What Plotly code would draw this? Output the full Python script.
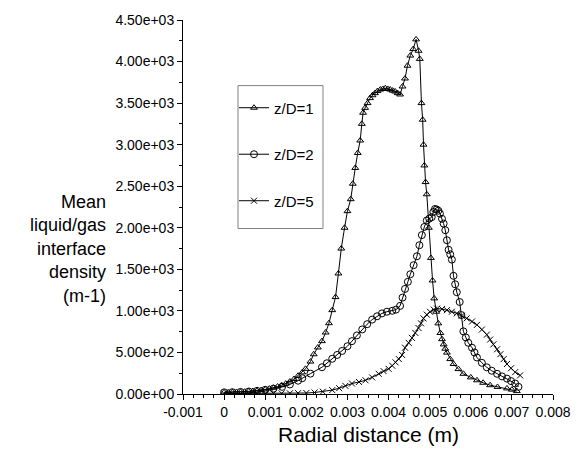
import plotly.graph_objects as go

# ---- data ----
x1 = [0, 0.0001, 0.0002, 0.0003, 0.0004, 0.0005, 0.0006, 0.0007, 0.0008, 0.0009, 0.001, 0.0011, 0.0012, 0.0013,
      0.0014, 0.0015, 0.0016, 0.0017, 0.0018, 0.0019, 0.00198, 0.0021, 0.00218, 0.00228, 0.00238, 0.00247, 0.00255,
      0.00263, 0.00271, 0.00278, 0.00285, 0.00293, 0.003, 0.00308, 0.00313, 0.00319, 0.00325, 0.00331, 0.00335,
      0.00338, 0.00343, 0.00349, 0.00355, 0.00361, 0.00367, 0.00373, 0.0038, 0.00386, 0.00392, 0.00398, 0.00404,
      0.0041, 0.00416, 0.00422, 0.00428, 0.00434, 0.0044, 0.00446, 0.00453, 0.0046, 0.00467, 0.00473, 0.00476,
      0.0048, 0.00483, 0.00485, 0.00487, 0.0049, 0.00493, 0.00498, 0.00503, 0.00507, 0.00511, 0.00516, 0.00521,
      0.00526, 0.0053, 0.00534, 0.00538, 0.00542, 0.0055, 0.00558, 0.0057, 0.00582, 0.006, 0.00615, 0.0063,
      0.00647, 0.00665, 0.00688, 0.007, 0.00712]
y1 = [20, 20, 22, 24, 26, 28, 32, 36, 40, 47, 55, 65, 75, 90,
      106, 125, 150, 180, 220, 260, 303, 390, 478, 560, 636, 740, 852,
      1009, 1166, 1450, 1750, 2000, 2200, 2344, 2530, 2720, 2900, 3050, 3250,
      3384, 3443, 3500, 3560, 3595, 3620, 3645, 3663, 3670, 3679, 3670, 3663,
      3650, 3640, 3620, 3604, 3700, 3796, 3950, 4072, 4150, 4267, 4130, 4032,
      3500, 3300, 3000, 2750, 2550, 2403, 2000, 1637, 1366, 1150, 990, 850,
      734, 660, 597, 545, 498, 420, 361, 300, 243, 200, 165, 135,
      106, 85, 67, 52, 35]

x2 = [0, 0.0002, 0.0004, 0.0006, 0.0008, 0.001, 0.0012, 0.00141, 0.0016, 0.0018, 0.0019, 0.0021, 0.00238, 0.0025,
      0.00263, 0.00275, 0.00287, 0.003, 0.00311, 0.00323, 0.00336, 0.00348, 0.0036, 0.00372, 0.00384, 0.00396,
      0.00409, 0.00418, 0.00428, 0.00434, 0.0044, 0.00447, 0.00453, 0.00461, 0.00469, 0.00475, 0.00481, 0.00487,
      0.00493, 0.00499, 0.00505, 0.00509, 0.00513, 0.00517, 0.00521, 0.00525, 0.0053, 0.00534, 0.00538, 0.00542,
      0.00546, 0.0055, 0.00554, 0.00558, 0.00562, 0.00566, 0.00573, 0.00577, 0.00582, 0.00588, 0.00594, 0.00603,
      0.00609, 0.00615, 0.00627, 0.00639, 0.00651, 0.00664, 0.00676, 0.00688, 0.00698, 0.00708, 0.00716]
y2 = [20, 22, 25, 30, 38, 50, 65, 86, 115, 160, 190, 245, 322, 370,
      424, 470, 518, 575, 636, 705, 777, 840, 895, 935, 970, 990,
      1001, 1015, 1060, 1160, 1264, 1350, 1441, 1550, 1657, 1790, 1912, 2010,
      2088, 2110, 2128, 2190, 2226, 2220, 2206, 2170, 2108, 2050, 1971, 1850,
      1735, 1680, 1617, 1422, 1320, 1225, 1107, 950, 754, 680, 616, 557,
      500, 439, 375, 321, 280, 243, 212, 185, 155, 126, 86]

x5 = [0, 0.0002, 0.0004, 0.0006, 0.0008, 0.001, 0.0012, 0.0014, 0.0016, 0.0018, 0.002, 0.0022, 0.0024, 0.00263,
      0.0028, 0.00295, 0.00311, 0.00328, 0.00344, 0.0036, 0.00376, 0.00388, 0.004, 0.00409, 0.00417, 0.00425,
      0.00433, 0.0044, 0.00449, 0.00457, 0.00465, 0.00473, 0.00479, 0.00485, 0.00493, 0.00501, 0.0051, 0.00518,
      0.0053, 0.00542, 0.00554, 0.00566, 0.00578, 0.0059, 0.00603, 0.00615, 0.00627, 0.00639, 0.00647, 0.00655,
      0.00664, 0.00672, 0.0068, 0.00688, 0.00698, 0.00708, 0.0072]
y5 = [5, 5, 5, 5, 5, 5, 6, 7, 8, 10, 12, 18, 28, 47,
      70, 98, 126, 145, 165, 200, 243, 275, 303, 340, 381, 420,
      470, 557, 615, 675, 735, 793, 850, 910, 955, 989, 1015, 1028,
      1022, 1009, 990, 970, 942, 910, 872, 832, 775, 714, 655, 597,
      538, 479, 420, 361, 310, 263, 224]

series_names = ["z/D=1", "z/D=2", "z/D=5"]

x_tickvals = [-0.001, 0, 0.001, 0.002, 0.003, 0.004, 0.005, 0.006, 0.007, 0.008]
x_ticktext = ["-0.001", "0", "0.001", "0.002", "0.003", "0.004", "0.005", "0.006", "0.007", "0.008"]
y_tickvals = [0, 500, 1000, 1500, 2000, 2500, 3000, 3500, 4000, 4500]
y_ticktext = ["0.00e+00", "5.00e+02", "1.00e+03", "1.50e+03", "2.00e+03",
              "2.50e+03", "3.00e+03", "3.50e+03", "4.00e+03", "4.50e+03"]
y_title_lines = ["Mean", "liquid/gas", "interface", "density", "(m-1)"]
x_title = "Radial distance (m)"

FONT = "Liberation Sans, Arial, sans-serif"

fig = go.Figure()
styles = [
    dict(symbol="triangle-up-open", size=6),
    dict(symbol="circle-open", size=7),
    dict(symbol="x-thin-open", size=6),
]
for i, (xs, ys) in enumerate([(x1, y1), (x2, y2), (x5, y5)]):
    fig.add_trace(go.Scatter(
        x=xs, y=ys, mode="lines+markers", name=series_names[i],
        legendgroup=series_names[i],
        line=dict(color="black", width=1),
        marker=dict(symbol=styles[i]["symbol"], size=styles[i]["size"], color="black",
                    line=dict(color="black", width=1)),
    ))

W, H = 587, 466
# plot area in screen pixels
PX0, PX1, PY0, PY1 = 183, 553, 12, 394
L, T = PX0, PY0
R = W - PX1
B = H - PY1
pw, ph = PX1 - PX0, PY1 - PY0

def px2paper_x(px):
    return (px - PX0) / pw

def px2paper_y(py):
    return (PY1 - py) / ph

fig.update_layout(
    width=W, height=H,
    margin=dict(l=L, r=R, t=T, b=B),
    paper_bgcolor="white", plot_bgcolor="white",
    font=dict(family=FONT, color="black", size=14),
    showlegend=True,
    legend=dict(
        x=px2paper_x(234), y=px2paper_y(85), xanchor="left", yanchor="top",
        bgcolor="rgba(0,0,0,0)", borderwidth=0,
        font=dict(family=FONT, size=15, color="black"),
        tracegroupgap=24,
    ),
    xaxis=dict(
        range=[-0.001, 0.008], tickvals=x_tickvals, ticktext=x_ticktext,
        showgrid=False, zeroline=False, showline=True, linecolor="black", linewidth=1,
        ticks="outside", ticklen=5, tickcolor="black",
        minor=dict(dtick=0.00025, tick0=0, ticks="outside", ticklen=3, tickcolor="black", showgrid=False),
        tickfont=dict(size=14, family=FONT), ticklabeloverflow="allow",
    ),
    yaxis=dict(
        range=[0, 4500], tickvals=y_tickvals, ticktext=y_ticktext,
        showgrid=False, zeroline=False, showline=True, linecolor="black", linewidth=1,
        ticks="outside", ticklen=5, tickcolor="black",
        minor=dict(dtick=250, tick0=0, ticks="outside", ticklen=3, tickcolor="black", showgrid=False),
        tickfont=dict(size=14, family=FONT), ticklabeloverflow="allow",
    ),
)

# legend box
fig.add_shape(type="rect", xref="paper", yref="paper",
              x0=px2paper_x(238), x1=px2paper_x(323), y0=px2paper_y(225), y1=px2paper_y(79),
              line=dict(color="#808080", width=1), fillcolor="rgba(0,0,0,0)")

# y title (right aligned, multi-line)
fig.add_annotation(text="<br>".join(y_title_lines), xref="paper", yref="paper",
                   x=px2paper_x(108), y=px2paper_y(246),
                   xanchor="right", yanchor="middle", align="right", showarrow=False,
                   font=dict(family=FONT, size=18, color="black"))

# x title
fig.add_annotation(text=x_title, xref="paper", yref="paper", x=px2paper_x(368), y=px2paper_y(435),
                   xanchor="center", yanchor="middle", showarrow=False,
                   font=dict(family=FONT, size=21, color="black"))

# remove the default 8px page margin so the figure sits at the window's top-left
fig.write_html("out.html", config={"displayModeBar": False},
               post_script="document.body.style.margin='0';")
